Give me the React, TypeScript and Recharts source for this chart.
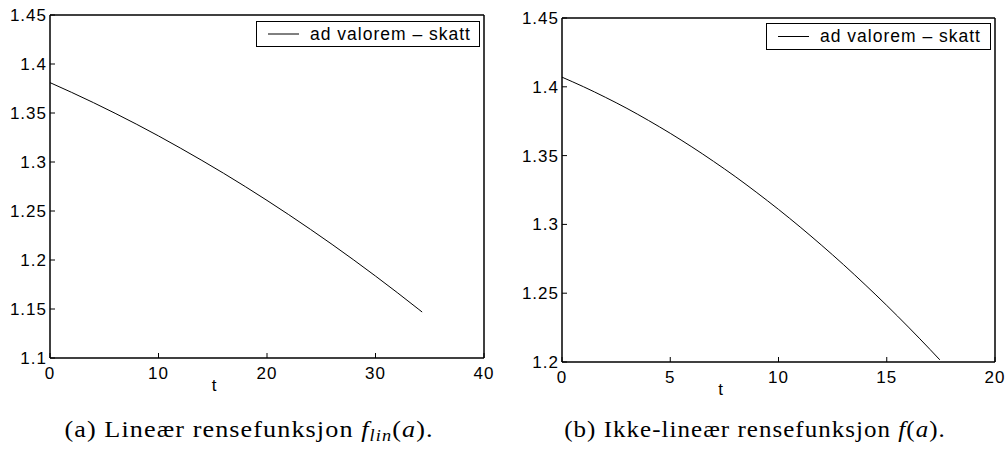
import React from 'react';
import { LineChart, Line, XAxis, YAxis, Legend } from 'recharts';

const seriesName = 'ad valorem – skatt';

// Panel (a): linear cleaning function
const tLin = [0, 2, 4, 6, 8, 10, 12, 14, 16, 18, 20, 22, 24, 26, 28, 30, 32, 34, 34.3];
const yLin = [1.381, 1.371, 1.3606, 1.3497, 1.3384, 1.3266, 1.3143, 1.3016, 1.2885, 1.2749, 1.2608, 1.2463, 1.2313, 1.2159, 1.2, 1.1836, 1.1668, 1.1495, 1.1469];
const xTicksLin = [0, 10, 20, 30, 40];
const yTicksLin = [1.1, 1.15, 1.2, 1.25, 1.3, 1.35, 1.4, 1.45];

// Panel (b): non-linear cleaning function
const tNon = [0, 1, 2, 3, 4, 5, 6, 7, 8, 9, 10, 11, 12, 13, 14, 15, 16, 17, 17.45];
const yNon = [1.407, 1.4, 1.3924, 1.3843, 1.3755, 1.3662, 1.3563, 1.3458, 1.3348, 1.3231, 1.3109, 1.2981, 1.2847, 1.2708, 1.2562, 1.2411, 1.2254, 1.2091, 1.2016];
const xTicksNon = [0, 5, 10, 15, 20];
const yTicksNon = [1.2, 1.25, 1.3, 1.35, 1.4, 1.45];

const xLabel = 't';

const SANS = '"Liberation Sans", Arial, Helvetica, sans-serif';
const SERIF = '"Liberation Serif", "Times New Roman", serif';

const tickStyle = { fill: '#000', fontSize: 17, fontFamily: SANS, letterSpacing: 1 };
const axisLineStyle = { stroke: '#000', strokeWidth: 1.5 };
const tickLineStyle = { stroke: '#000', strokeWidth: 1 };

function makeLegend(boxW: number, boxH: number) {
  return (props: any) => {
    const payload = props.payload || [];
    const name = payload.length ? payload[0].value : '';
    return (
      <div
        style={{
          boxSizing: 'border-box',
          width: boxW,
          height: boxH,
          border: '1.5px solid #000',
          background: '#fff',
          position: 'relative',
        }}
      >
        <svg width={40} height={boxH - 2} style={{ position: 'absolute', left: 9, top: 0 }}>
          <line x1={2} x2={33} y1={(boxH - 2) / 2} y2={(boxH - 2) / 2} stroke="#000" strokeWidth={1} />
        </svg>
        <span
          style={{
            position: 'absolute',
            left: 53,
            top: 0,
            lineHeight: `${boxH - 2}px`,
            fontSize: 17.5,
            fontFamily: SANS,
            letterSpacing: 1,
            color: '#000',
            whiteSpace: 'nowrap',
          }}
        >
          {name}
        </span>
      </div>
    );
  };
}

type PanelProps = {
  left: number;
  ts: number[];
  ys: number[];
  xTicks: number[];
  yTicks: number[];
  yAxisWidth: number;
  margin: { top: number; right: number; bottom: number; left: number };
  legendPos: { left: number; top: number; w: number; h: number };
  tDx: number;
};

function Panel(p: PanelProps) {
  const data = p.ts.map((t, i) => ({ t, v: p.ys[i] }));
  const xDomain: [number, number] = [p.xTicks[0], p.xTicks[p.xTicks.length - 1]];
  const yDomain: [number, number] = [p.yTicks[0], p.yTicks[p.yTicks.length - 1]];
  return (
    <div style={{ position: 'absolute', left: p.left, top: 0 }}>
      <LineChart width={500} height={400} data={data} margin={p.margin}>
        <XAxis
          dataKey="t"
          type="number"
          domain={xDomain}
          ticks={p.xTicks}
          interval={0}
          allowDataOverflow
          height={30}
          tickSize={-5}
          tickMargin={14}
          axisLine={axisLineStyle}
          tickLine={tickLineStyle}
          tick={tickStyle}
          label={{ value: xLabel, position: 'bottom', offset: -9, dx: p.tDx, fill: '#000', fontSize: 17, fontFamily: SANS }}
        />
        <XAxis
          xAxisId="top"
          orientation="top"
          type="number"
          domain={xDomain}
          ticks={p.xTicks}
          interval={0}
          allowDataOverflow
          height={1}
          tickSize={-5}
          axisLine={axisLineStyle}
          tickLine={tickLineStyle}
          tick={false}
        />
        <YAxis
          type="number"
          domain={yDomain}
          ticks={p.yTicks}
          interval={0}
          allowDataOverflow
          width={p.yAxisWidth}
          tickSize={-5}
          tickMargin={8}
          axisLine={axisLineStyle}
          tickLine={tickLineStyle}
          tick={tickStyle}
        />
        <YAxis
          yAxisId="right"
          orientation="right"
          type="number"
          domain={yDomain}
          ticks={p.yTicks}
          interval={0}
          allowDataOverflow
          width={1}
          tickSize={-5}
          axisLine={axisLineStyle}
          tickLine={tickLineStyle}
          tick={false}
        />
        <Legend
          layout="horizontal"
          verticalAlign="middle"
          align="center"
          content={makeLegend(p.legendPos.w, p.legendPos.h)}
          wrapperStyle={{ left: p.legendPos.left, top: p.legendPos.top, width: p.legendPos.w, height: p.legendPos.h }}
        />
        <Line
          type="monotone"
          dataKey="v"
          name={seriesName}
          stroke="#000"
          strokeWidth={1}
          dot={false}
          activeDot={false}
          isAnimationActive={false}
        />
      </LineChart>
    </div>
  );
}

const captionStyle: React.CSSProperties = {
  position: 'absolute',
  top: 414,
  width: 498,
  textAlign: 'center',
  fontFamily: SERIF,
  fontSize: 24,
  letterSpacing: 1,
  lineHeight: '30px',
  color: '#000',
  whiteSpace: 'nowrap',
  transformOrigin: '50% 50%',
};

const subStyle: React.CSSProperties = { fontSize: '0.7em', lineHeight: 0, verticalAlign: '-0.25em', fontStyle: 'italic' };

export default function App() {
  return (
    <div style={{ position: 'absolute', left: 0, top: 0, width: 1006, height: 453, background: '#fff', overflow: 'hidden' }}>
      <Panel
        left={0}
        ts={tLin}
        ys={yLin}
        xTicks={xTicksLin}
        yTicks={yTicksLin}
        yAxisWidth={50}
        margin={{ top: 14, right: 15, bottom: 12, left: 0 }}
        legendPos={{ left: 256, top: 21, w: 224, h: 26 }}
        tDx={-53}
      />
      <Panel
        left={506}
        ts={tNon}
        ys={yNon}
        xTicks={xTicksNon}
        yTicks={yTicksNon}
        yAxisWidth={56}
        margin={{ top: 17, right: 10, bottom: 8, left: 0 }}
        legendPos={{ left: 260, top: 23, w: 225, h: 27 }}
        tDx={-58}
      />
      <div style={{ ...captionStyle, left: 0, transform: 'scaleX(1.09)' }}>
        (a) Lineær rensefunksjon <i>f</i><sub style={subStyle}>lin</sub>(<i>a</i>).
      </div>
      <div style={{ ...captionStyle, left: 506, transform: 'scaleX(1.04)' }}>
        (b) Ikke-lineær rensefunksjon <i>f</i>(<i>a</i>).
      </div>
    </div>
  );
}
